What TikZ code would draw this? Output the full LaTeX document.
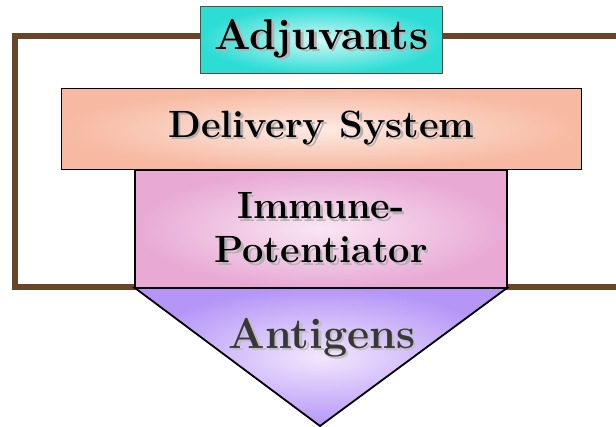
\documentclass[tikz,border=0pt]{standalone}
\newcommand\shd[2][black!30]{\leavevmode\rlap{\raisebox{-2.5pt}{\hspace{2.5pt}\textcolor{#1}{#2}}}#2}
\begin{document}
\begin{tikzpicture}[x=1pt,y=-1pt,
  frameline/.style={draw=framebrown,line width=6pt},
  boxshape/.style={rectangle,inner sep=0pt,line width=1.8pt},
  lbl/.style={font=\bfseries\fontsize{38}{44}\selectfont,align=center,inner sep=0pt},
  biglbl/.style={lbl,font=\bfseries\fontsize{43}{48}\selectfont},
]
\definecolor{framebrown}{HTML}{694629}
\definecolor{tealout}{HTML}{2CDDD6}
\definecolor{tealin}{HTML}{D2F8F6}
\definecolor{salmonout}{HTML}{F7B9A1}
\definecolor{salmonin}{HTML}{FDEAE3}
\definecolor{pinkout}{HTML}{E8A9D5}
\definecolor{pinkin}{HTML}{F9E6F3}
\definecolor{lavout}{HTML}{B596F7}
\definecolor{lavin}{HTML}{F2E6FD}
\useasboundingbox (0,0) rectangle (616,427);
\draw[frameline] (620,36) -- (15,36) -- (15,287) -- (620,287);
% boxes
\node[boxshape,draw=framebrown,inner color=tealin,outer color=tealout,minimum width=242pt,minimum height=67pt] (adj) at (321.5,40) {};
\node[boxshape,draw=black,inner color=salmonin,outer color=salmonout,minimum width=520pt,minimum height=81pt] (del) at (321.5,129) {};
\node[boxshape,draw=black,inner color=pinkin,outer color=pinkout,minimum width=372pt,minimum height=118pt] (imm) at (321,229) {};
\path[draw=black,line width=1.8pt,line join=miter,inner color=lavin,outer color=lavout] (135,288) -- (507,288) -- (320,426) -- cycle;
\coordinate (ant) at (322,339);
% texts
\node[biglbl] (adjt) at (adj) {\shd{Adjuvants}};
\node[lbl] (delt) at (del) {\shd{Delivery System}};
\node[lbl] (immt) at (imm) {\shd{Immune-}\\\shd{Potentiator}};
\node[biglbl,text=black!78] (antt) at (ant) {\shd[black!25]{Antigens}};
\end{tikzpicture}
\end{document}
